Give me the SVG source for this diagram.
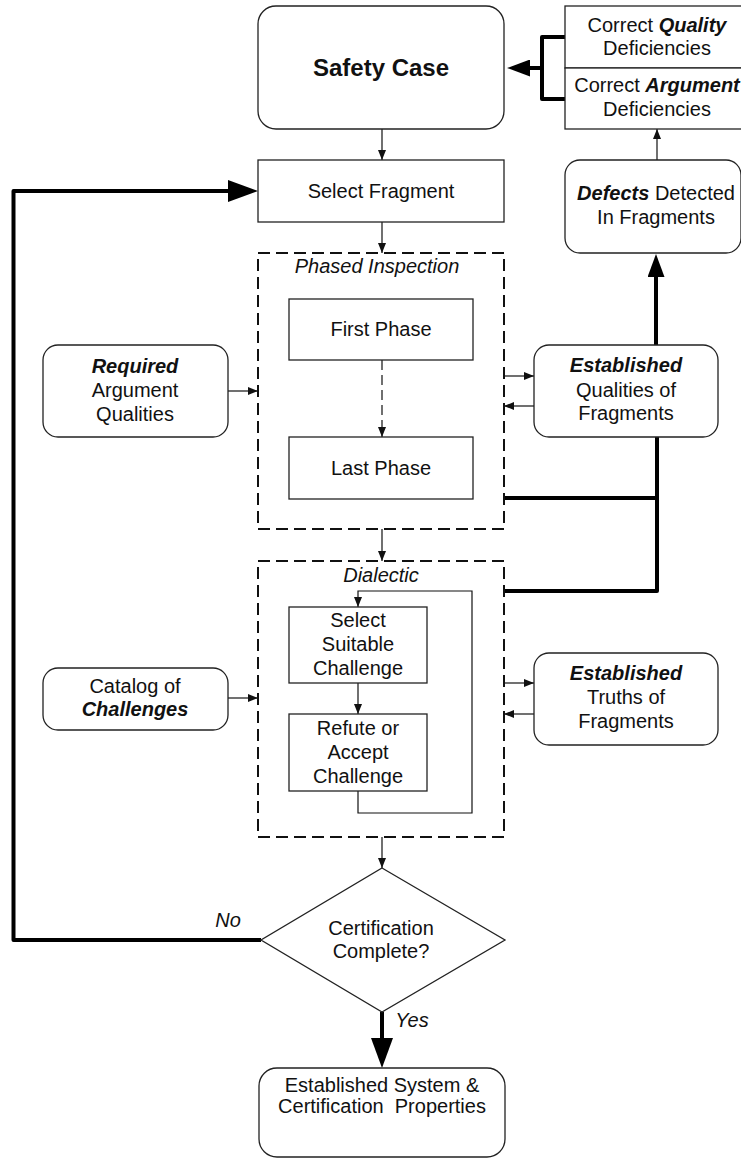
<svg xmlns="http://www.w3.org/2000/svg" width="741" height="1159" viewBox="0 0 741 1159">
<style>
  text { font-family: "Liberation Sans", Arial, sans-serif; font-size: 20px; fill: #111; text-anchor: middle; }
  .bi { font-weight: bold; font-style: italic; }
  .it { font-style: italic; }
  .box { fill: #fff; stroke: #222; stroke-width: 1.3; }
  .dash { fill: none; stroke: #111; stroke-width: 2; stroke-dasharray: 12 6; }
  .thin { fill: none; stroke: #111; stroke-width: 1.2; }
  .thick { fill: none; stroke: #000; stroke-width: 4; stroke-linejoin: round; }
</style>
<defs>
  <marker id="a" markerUnits="userSpaceOnUse" viewBox="0 0 10 8" markerWidth="10" markerHeight="8" refX="10" refY="4" orient="auto">
    <path d="M0,0 L10,4 L0,8 z" fill="#111"/>
  </marker>
  <marker id="big" markerUnits="userSpaceOnUse" viewBox="0 0 30 22" markerWidth="30" markerHeight="22" refX="0" refY="11" orient="auto">
    <path d="M0,0 L30,11 L0,22 z" fill="#000"/>
  </marker>
  <marker id="med" markerUnits="userSpaceOnUse" viewBox="0 0 23 17" markerWidth="23" markerHeight="17" refX="0" refY="8.5" orient="auto">
    <path d="M0,0 L23,8.5 L0,17 z" fill="#000"/>
  </marker>
</defs>

<g id="connectors">
  <line class="thin" x1="382" y1="129" x2="382" y2="160" marker-end="url(#a)"/>
  <line class="thin" x1="382" y1="222" x2="382" y2="253" marker-end="url(#a)"/>
  <line class="thin" x1="382" y1="529" x2="382" y2="561" marker-end="url(#a)"/>
  <line class="thin" x1="382" y1="837" x2="382" y2="868" marker-end="url(#a)"/>
  <line class="thin" x1="382" y1="360" x2="382" y2="437" stroke-dasharray="10 5" marker-end="url(#a)"/>
  <line class="thin" x1="228" y1="391" x2="258" y2="391" marker-end="url(#a)"/>
  <line class="thin" x1="228" y1="698" x2="258" y2="698" marker-end="url(#a)"/>
  <line class="thin" x1="504" y1="376" x2="534" y2="376" marker-end="url(#a)"/>
  <line class="thin" x1="534" y1="406" x2="504" y2="406" marker-end="url(#a)"/>
  <line class="thin" x1="504" y1="683" x2="534" y2="683" marker-end="url(#a)"/>
  <line class="thin" x1="534" y1="714" x2="504" y2="714" marker-end="url(#a)"/>
  <line class="thin" x1="358" y1="683" x2="358" y2="714" marker-end="url(#a)"/>
  <path class="thin" d="M358,791 V813 H472 V591 H358 V607" marker-end="url(#a)"/>
  <line class="thin" x1="657" y1="160" x2="657" y2="129" marker-end="url(#a)"/>
  <line class="thick" x1="656" y1="345" x2="656" y2="277" marker-end="url(#med)"/>
  <path class="thick" d="M504,498 H657"/>
  <path class="thick" d="M504,591 H657 V437"/>
  <path class="thick" d="M565,37 H542 V99 H565" stroke-linecap="round"/>
  <line class="thick" x1="542" y1="68" x2="530" y2="68" marker-end="url(#med)"/>
  <path class="thick" d="M261,940 H13.5 V191 H228" marker-end="url(#big)"/>
  <line class="thick" stroke-width="6" x1="382" y1="1012" x2="382" y2="1038" marker-end="url(#big)"/>
  <text class="it" x="228" y="927">No</text>
  <text class="it" x="412" y="1027">Yes</text>
</g>

<g id="safety-case">
  <rect class="box" x="258" y="6" width="246" height="123" rx="18"/>
  <text x="381" y="76" style="font-weight:bold;font-size:24px">Safety Case</text>
</g>

<g id="correct-deficiencies">
  <rect class="box" x="565" y="6" width="185" height="62"/>
  <rect class="box" x="565" y="68" width="185" height="61"/>
  <text x="657" y="32">Correct <tspan class="bi">Quality</tspan></text>
  <text x="657" y="55">Deficiencies</text>
  <text x="657" y="92">Correct <tspan class="bi">Argument</tspan></text>
  <text x="657" y="116">Deficiencies</text>
</g>

<g id="select-fragment">
  <rect class="box" x="258" y="160" width="246" height="62"/>
  <text x="381" y="198">Select Fragment</text>
</g>

<g id="defects">
  <rect class="box" x="565" y="160" width="176" height="93" rx="15"/>
  <text x="656" y="200"><tspan class="bi">Defects</tspan> Detected</text>
  <text x="656" y="224">In Fragments</text>
</g>

<g id="phased-inspection">
  <rect class="dash" x="258" y="253" width="246" height="276"/>
  <text class="it" x="377" y="273">Phased Inspection</text>
</g>

<g id="first-phase">
  <rect class="box" x="289" y="299" width="184" height="61"/>
  <text x="381" y="336">First Phase</text>
</g>

<g id="last-phase">
  <rect class="box" x="289" y="437" width="184" height="62"/>
  <text x="381" y="475">Last Phase</text>
</g>

<g id="required-qualities">
  <rect class="box" x="43" y="345" width="185" height="92" rx="15"/>
  <text class="bi" x="135" y="373">Required</text>
  <text x="135" y="397">Argument</text>
  <text x="135" y="421">Qualities</text>
</g>

<g id="established-qualities">
  <rect class="box" x="534" y="345" width="184" height="92" rx="15"/>
  <text class="bi" x="626" y="372">Established</text>
  <text x="626" y="397">Qualities of</text>
  <text x="626" y="420">Fragments</text>
</g>

<g id="dialectic">
  <rect class="dash" x="258" y="561" width="246" height="276"/>
  <text class="it" x="381" y="582">Dialectic</text>
</g>

<g id="select-challenge">
  <rect class="box" x="289" y="607" width="138" height="76"/>
  <text x="358" y="627">Select</text>
  <text x="358" y="651">Suitable</text>
  <text x="358" y="675">Challenge</text>
</g>

<g id="refute-challenge">
  <rect class="box" x="289" y="714" width="138" height="77"/>
  <text x="358" y="735">Refute or</text>
  <text x="358" y="759">Accept</text>
  <text x="358" y="783">Challenge</text>
</g>

<g id="catalog">
  <rect class="box" x="43" y="668" width="185" height="62" rx="15"/>
  <text x="135" y="693">Catalog of</text>
  <text class="bi" x="135" y="716">Challenges</text>
</g>

<g id="established-truths">
  <rect class="box" x="534" y="653" width="184" height="92" rx="15"/>
  <text class="bi" x="626" y="680">Established</text>
  <text x="626" y="704">Truths of</text>
  <text x="626" y="728">Fragments</text>
</g>

<g id="certification-complete">
  <polygon class="box" points="382,868 505,940 382,1012 261,940"/>
  <text x="381" y="935">Certification</text>
  <text x="381" y="958">Complete?</text>
</g>

<g id="established-properties">
  <rect class="box" x="259" y="1068" width="246" height="89" rx="18"/>
  <text x="382" y="1092">Established System &amp;</text>
  <text x="382" y="1113" xml:space="preserve">Certification  Properties</text>
</g>
</svg>
